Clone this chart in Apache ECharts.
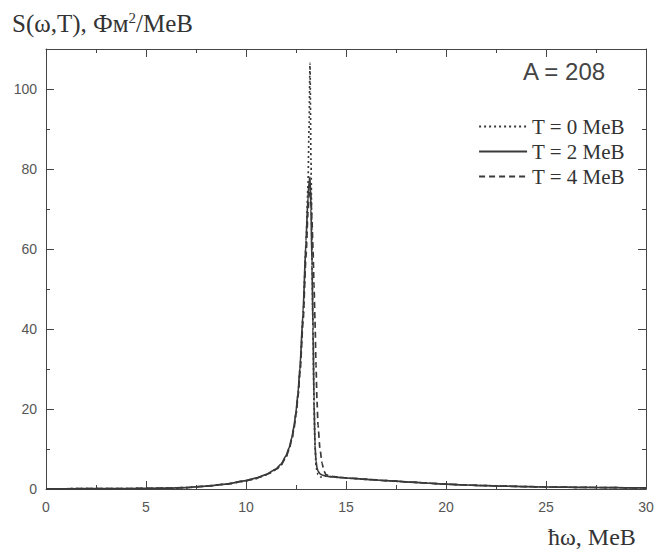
<!DOCTYPE html>
<html>
<head>
<meta charset="utf-8">
<script src="https://cdn.jsdelivr.net/npm/echarts@6/dist/echarts.min.js"></script>
<style>html,body{margin:0;padding:0;background:#fff;}#c{width:657px;height:550px;}</style>
</head>
<body>
<div id="c"></div>
<script>
// Photon energy, MeV
var xs = [0,2,4,6,7,8,9,10,10.5,11,11.5,11.75,12,12.15,12.3,12.4,12.5,12.6,12.7,12.85,13.0,13.1,13.15,13.2,13.25,13.3,13.35,13.4,13.45,13.5,13.55,13.6,13.7,13.8,13.9,14.0,14.2,14.4,14.6,15,16,17,18,19,20,21,22,23,24,25,26,27,28,29,30];
// T = 0 MeB (dotted)
var sT0 = [0.05,0.08,0.12,0.2,0.35,0.7,1.2,2.0,2.6,3.5,4.8,6.0,8.0,9.9,12.6,15.4,18.8,23.5,30,43,61,76,90,106.5,82,58,40,22,11,6,4.5,3.6,3.0,3.0,3.2,3.25,3.1,3.0,2.9,2.75,2.4,2.1,1.8,1.5,1.2,1.0,0.85,0.7,0.6,0.5,0.45,0.4,0.35,0.3,0.3];
// T = 2 MeB (solid)
var sT2 = [0.05,0.08,0.12,0.2,0.35,0.7,1.2,2.1,2.7,3.6,5.0,6.2,8.3,10.2,13,15.8,19.3,24,30.5,44,62,73,76.5,78,70,56,40,22,11,7,5.3,4.5,3.8,3.5,3.35,3.25,3.1,3.0,2.9,2.75,2.4,2.1,1.8,1.5,1.2,1.0,0.85,0.7,0.6,0.5,0.45,0.4,0.35,0.3,0.3];
// T = 4 MeB (dashed)
var sT4 = [0.05,0.08,0.12,0.2,0.35,0.7,1.2,2.1,2.7,3.6,4.9,6.0,8.0,9.8,12.5,15.2,18.6,23,29,41.5,58,69,73,76,73,67,60,51,42,31,22,16,10,6.5,4.5,3.6,3.3,3.1,2.95,2.8,2.45,2.1,1.8,1.5,1.2,1.0,0.85,0.7,0.6,0.5,0.45,0.4,0.35,0.3,0.3];
var seriesNames = ['T = 0 MeB','T = 2 MeB','T = 4 MeB'];
var xTicks = [0,5,10,15,20,25,30];
var yTicks = [0,20,40,60,80,100];

function pairs(ys){ return xs.map(function(x,i){ return [x, ys[i]]; }); }

var chart = echarts.init(document.getElementById('c'), null, {renderer:'svg'});
var axisCol = '#444';
var lineCol = '#3a3a3a';
function xAx(pos, showLabel){
  return {
    type:'value', position:pos, min:xTicks[0], max:xTicks[xTicks.length-1], interval:5,
    axisLine:{show:true, onZero:false, lineStyle:{color:axisCol, width:1}},
    axisTick:{show:true, inside:true, length:8, lineStyle:{color:axisCol}},
    minorTick:{show:true, splitNumber:2, length:4, lineStyle:{color:axisCol}},
    axisLabel:{show:showLabel, margin:11, color:'#555', fontFamily:'Liberation Sans', fontSize:14},
    splitLine:{show:false}
  };
}
function yAx(pos, showLabel){
  return {
    type:'value', position:pos, min:0, max:110, interval:20,
    axisLine:{show:true, onZero:false, lineStyle:{color:axisCol, width:1}},
    axisTick:{show:true, inside:true, length:8, lineStyle:{color:axisCol}},
    minorTick:{show:true, splitNumber:2, length:4, lineStyle:{color:axisCol}},
    axisLabel:{show:showLabel, showMaxLabel:false, margin:9, color:'#555', fontFamily:'Liberation Sans', fontSize:14},
    splitLine:{show:false}
  };
}
var option = {
  animation:false,
  backgroundColor:'#fff',
  grid:{left:46, right:11, top:49, bottom:61},
  xAxis:[xAx('bottom', true), xAx('top', false)],
  yAxis:[yAx('left', true), yAx('right', false)],
  legend:{
    orient:'vertical', right:27, top:111, itemWidth:48, itemHeight:14, itemGap:4,
    data:seriesNames,
    itemStyle:{opacity:0},
    textStyle:{fontFamily:'Liberation Serif', fontSize:21, color:'#333'}
  },
  series:[
    {name:seriesNames[0], type:'line', data:pairs(sT0), showSymbol:false, symbol:'none', color:lineCol,
      smooth:0.2, smoothMonotone:'x', lineStyle:{width:1.7, type:[2,3], color:lineCol}},
    {name:seriesNames[1], type:'line', data:pairs(sT2), showSymbol:false, symbol:'none', color:lineCol,
      smooth:0.2, smoothMonotone:'x', lineStyle:{width:1.7, type:'solid', color:lineCol}},
    {name:seriesNames[2], type:'line', data:pairs(sT4), showSymbol:false, symbol:'none', color:lineCol,
      smooth:0.2, smoothMonotone:'x', lineStyle:{width:1.7, type:[6,4], color:lineCol}}
  ],
  graphic:[
    {type:'text', left:12, top:10, style:{
      text:'S(ω,T), Фм{sup|2}/MeB', fill:'#333', font:'25px "Liberation Serif"',
      rich:{sup:{fontSize:15, verticalAlign:'top', padding:[0,0,12,0], fontFamily:'Liberation Serif', fill:'#333'}}
    }},
    {type:'text', left:548, top:525, style:{text:'ħω, MeB', fill:'#333', font:'24px "Liberation Serif"'}},
    {type:'text', left:523, top:59, style:{text:'A = 208', fill:'#444', font:'24px "Liberation Sans"'}}
  ]
};
chart.setOption(option);
</script>
</body>
</html>
